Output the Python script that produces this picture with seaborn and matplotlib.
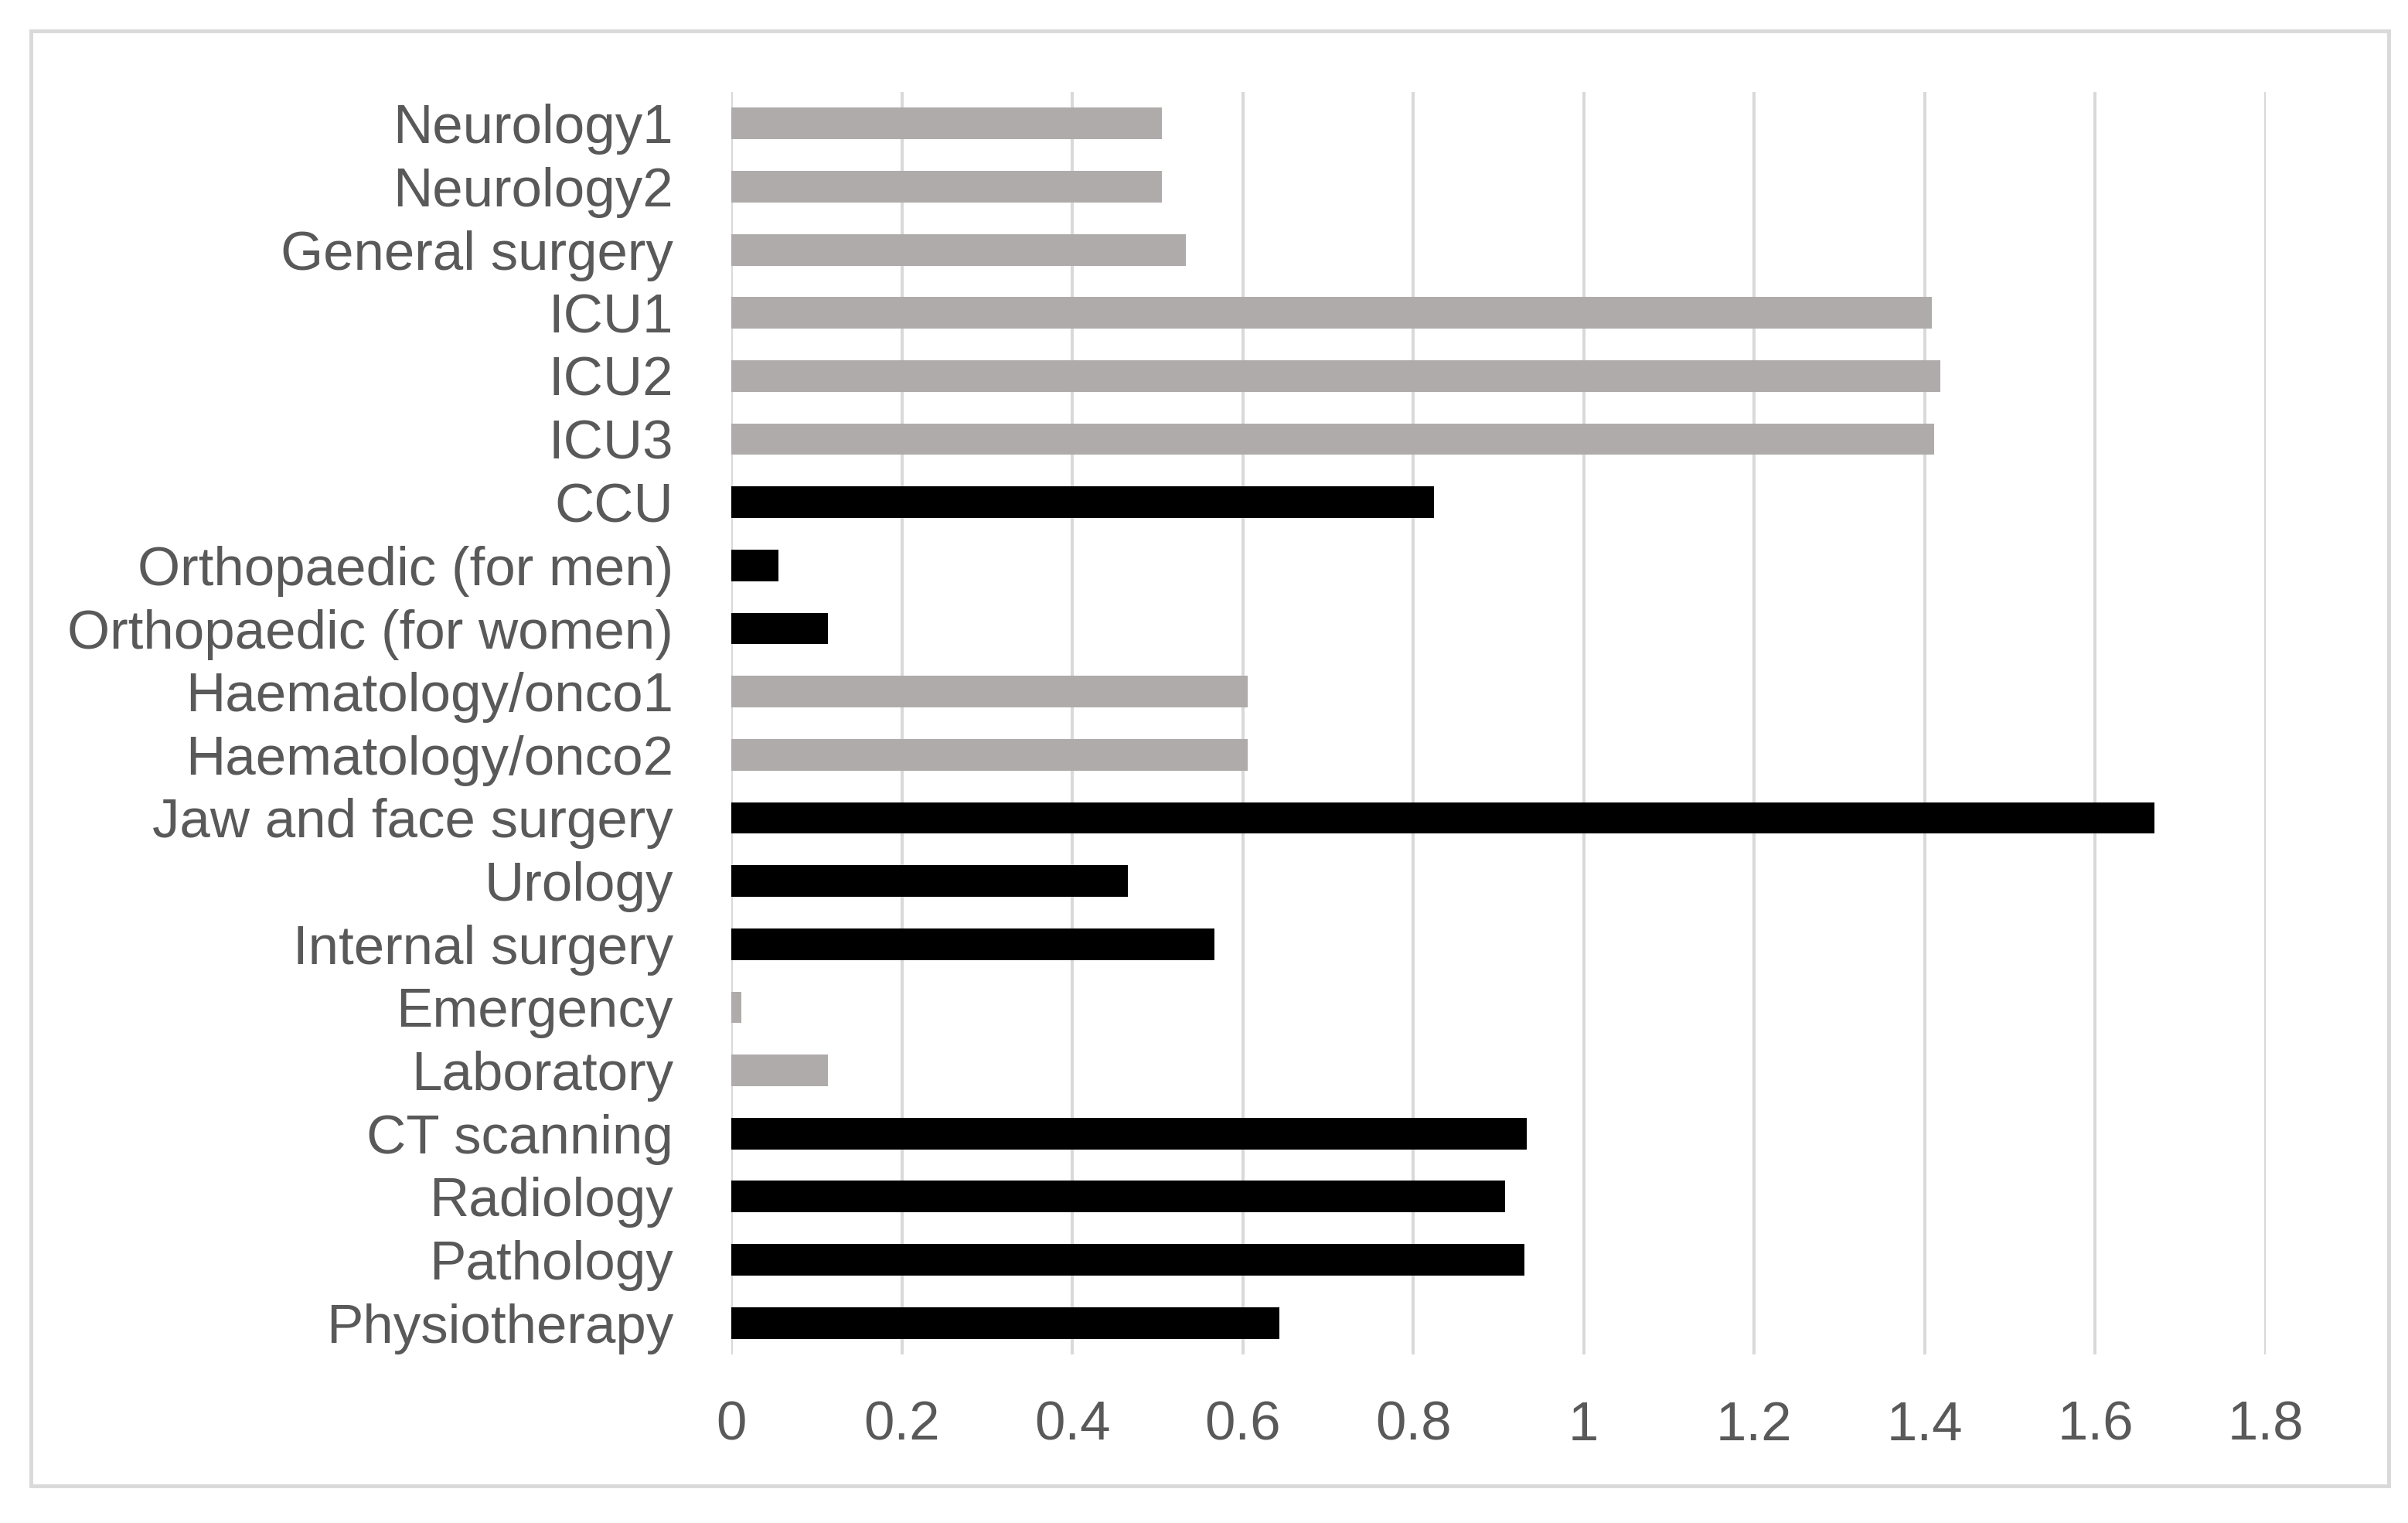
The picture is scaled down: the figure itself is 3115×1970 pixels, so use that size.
import matplotlib
matplotlib.use("Agg")
import matplotlib.pyplot as plt
import seaborn as sns
import pandas as pd
from matplotlib.patches import Rectangle

categories = ["Neurology1", "Neurology2", "General surgery", "ICU1", "ICU2", "ICU3",
              "CCU", "Orthopaedic (for men)", "Orthopaedic (for women)",
              "Haematology/onco1", "Haematology/onco2", "Jaw and face surgery",
              "Urology", "Internal surgery", "Emergency", "Laboratory",
              "CT scanning", "Radiology", "Pathology", "Physiotherapy"]
values = [0.505, 0.505, 0.533, 1.408, 1.418, 1.411,
          0.824, 0.055, 0.113,
          0.606, 0.606, 1.669,
          0.465, 0.567, 0.012, 0.113,
          0.933, 0.908, 0.930, 0.643]
groups = ["gray", "gray", "gray", "gray", "gray", "gray",
          "black", "black", "black",
          "gray", "gray", "black",
          "black", "black", "gray", "gray",
          "black", "black", "black", "black"]
x_ticks = [0, 0.2, 0.4, 0.6, 0.8, 1.0, 1.2, 1.4, 1.6, 1.8]
x_tick_labels = ["0", "0.2", "0.4", "0.6", "0.8", "1", "1.2", "1.4", "1.6", "1.8"]

df = pd.DataFrame({"category": categories, "value": values, "group": groups})

sns.set_theme(style="white")
plt.rcParams['font.family'] = ['Liberation Sans Narrow', 'Liberation Sans', 'DejaVu Sans']

W, H, DPI = 3115, 1970, 100
fig = plt.figure(figsize=(W / DPI, H / DPI), dpi=DPI)
fig.patch.set_facecolor("white")

x0_px, x1_px = 946, 2931
top_px, bot_px = 119, 1752
ax = fig.add_axes([x0_px / W, 1 - bot_px / H, (x1_px - x0_px) / W, (bot_px - top_px) / H])

sns.barplot(data=df, y="category", x="value", hue="group", order=categories,
            palette={"gray": "#AFABA9", "black": "#000000"}, dodge=False,
            width=0.5, orient="h", ax=ax, legend=False, zorder=3, linewidth=0)

ax.set_xlim(0, 1.8)
ax.set_ylim(len(categories) - 0.5, -0.5)
ax.set_xticks(x_ticks)
ax.set_xticklabels(x_tick_labels)
ax.set_xlabel("")
ax.set_ylabel("")
for s in ax.spines.values():
    s.set_visible(False)
ax.grid(False)
for xv in x_ticks:
    ax.axvline(xv, color="#D9D9D9", lw=2.9, zorder=1)

# size fonts so the longest label matches the reference width
fs = 40
ax.tick_params(axis="y", length=0, pad=54, labelsize=fs, labelcolor="#595959")
ax.tick_params(axis="x", length=0, pad=43, labelsize=fs, labelcolor="#595959")
fig.canvas.draw()
renderer = fig.canvas.get_renderer()
lab = [t for t in ax.get_yticklabels() if t.get_text() == "Orthopaedic (for women)"][0]
wpx = lab.get_window_extent(renderer).width
fs = fs * 784 / wpx
ax.tick_params(axis="y", labelsize=fs)
ax.tick_params(axis="x", labelsize=fs)

# outer chart frame
fig.patches.append(Rectangle((40 / W, 48 / H), (3090 - 40) / W, (1922 - 40) / H,
                             transform=fig.transFigure, fill=False,
                             edgecolor="#D9D9D9", linewidth=3.5))

fig.savefig("out.png", dpi=DPI, facecolor="white")
